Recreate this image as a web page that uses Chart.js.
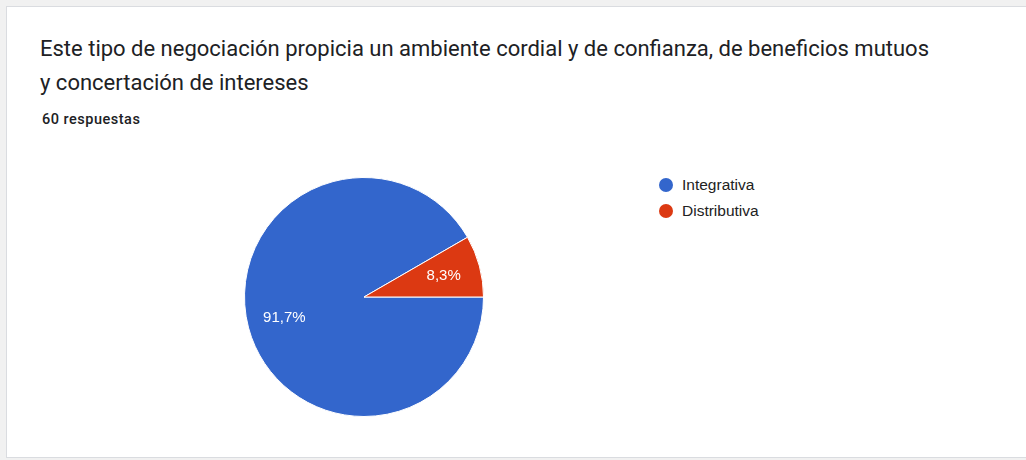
<!DOCTYPE html>
<html>
<head>
<meta charset="utf-8">
<script src="https://cdn.jsdelivr.net/npm/chart.js@4.4.1/dist/chart.umd.min.js"></script>
<style>
  html, body { margin: 0; padding: 0; background: #f1f1f1; }
  .card {
    position: absolute; left: 6px; top: 6px; width: 1030px; height: 452px;
    background: #fff; border: 1px solid #dadce0; box-sizing: border-box;
  }
  .title {
    position: absolute; left: 40px; top: 32px; width: 980px;
    font-family: Roboto, "Noto Sans", sans-serif; font-size: 22px;
    line-height: 34px; color: #202124;
  }
  .count {
    position: absolute; left: 42px; top: 111px;
    font-family: Roboto, sans-serif; font-size: 14.5px; font-weight: 500;
    letter-spacing: 0.5px; color: #202124;
  }
  #legend {
    position: absolute; left: 659px; top: 172px;
    font-family: "Liberation Sans", Arial, sans-serif; font-size: 15.5px; color: #222;
  }
  #legend div { height: 26px; display: flex; align-items: center; }
  #legend span.dot { width: 14px; height: 14px; border-radius: 50%; margin-right: 9px; }
  canvas { position: absolute; left: 0; top: 0; }
</style>
</head>
<body>
<div class="card"></div>
<div class="title">Este tipo de negociación propicia un ambiente cordial y de confianza, de beneficios mutuos<br>y concertación de intereses</div>
<div class="count">60 respuestas</div>
<div id="legend"></div>
<canvas id="pie" width="1026" height="460"></canvas>
<script>
const categories = ["Integrativa", "Distributiva"];
const counts = [55, 5];
const percentLabels = ["91,7%", "8,3%"];
const sliceColors = ["#3366cc", "#dc3912"];

// Legend built from the same arrays
const legend = document.getElementById("legend");
categories.forEach((name, i) => {
  const row = document.createElement("div");
  row.innerHTML = '<span class="dot" style="background:' + sliceColors[i] + '"></span>' + name;
  legend.appendChild(row);
});

// Percentage labels inside the slices
const sliceLabels = {
  id: "sliceLabels",
  afterDatasetsDraw(chart) {
    const ctx = chart.ctx;
    chart.getDatasetMeta(0).data.forEach((arc, i) => {
      const mid = (arc.startAngle + arc.endAngle) / 2;
      const r = arc.outerRadius * 0.69;
      ctx.save();
      ctx.fillStyle = "#ffffff";
      ctx.font = "15px 'Liberation Sans', Arial, sans-serif";
      ctx.textAlign = "center";
      ctx.textBaseline = "middle";
      ctx.fillText(percentLabels[i], arc.x + Math.cos(mid) * r, arc.y + Math.sin(mid) * r);
      ctx.restore();
    });
  },
};

new Chart(document.getElementById("pie").getContext("2d"), {
  type: "pie",
  data: {
    labels: categories,
    datasets: [
      {
        data: counts,
        backgroundColor: sliceColors,
        borderColor: "#ffffff",
        borderWidth: 1,
      },
    ],
  },
  options: {
    responsive: false,
    animation: false,
    rotation: 90,
    layout: { padding: { left: 244, right: 542, top: 177, bottom: 43 } },
    plugins: {
      legend: { display: false },
      tooltip: { enabled: false },
    },
  },
  plugins: [sliceLabels],
});
</script>
</body>
</html>
